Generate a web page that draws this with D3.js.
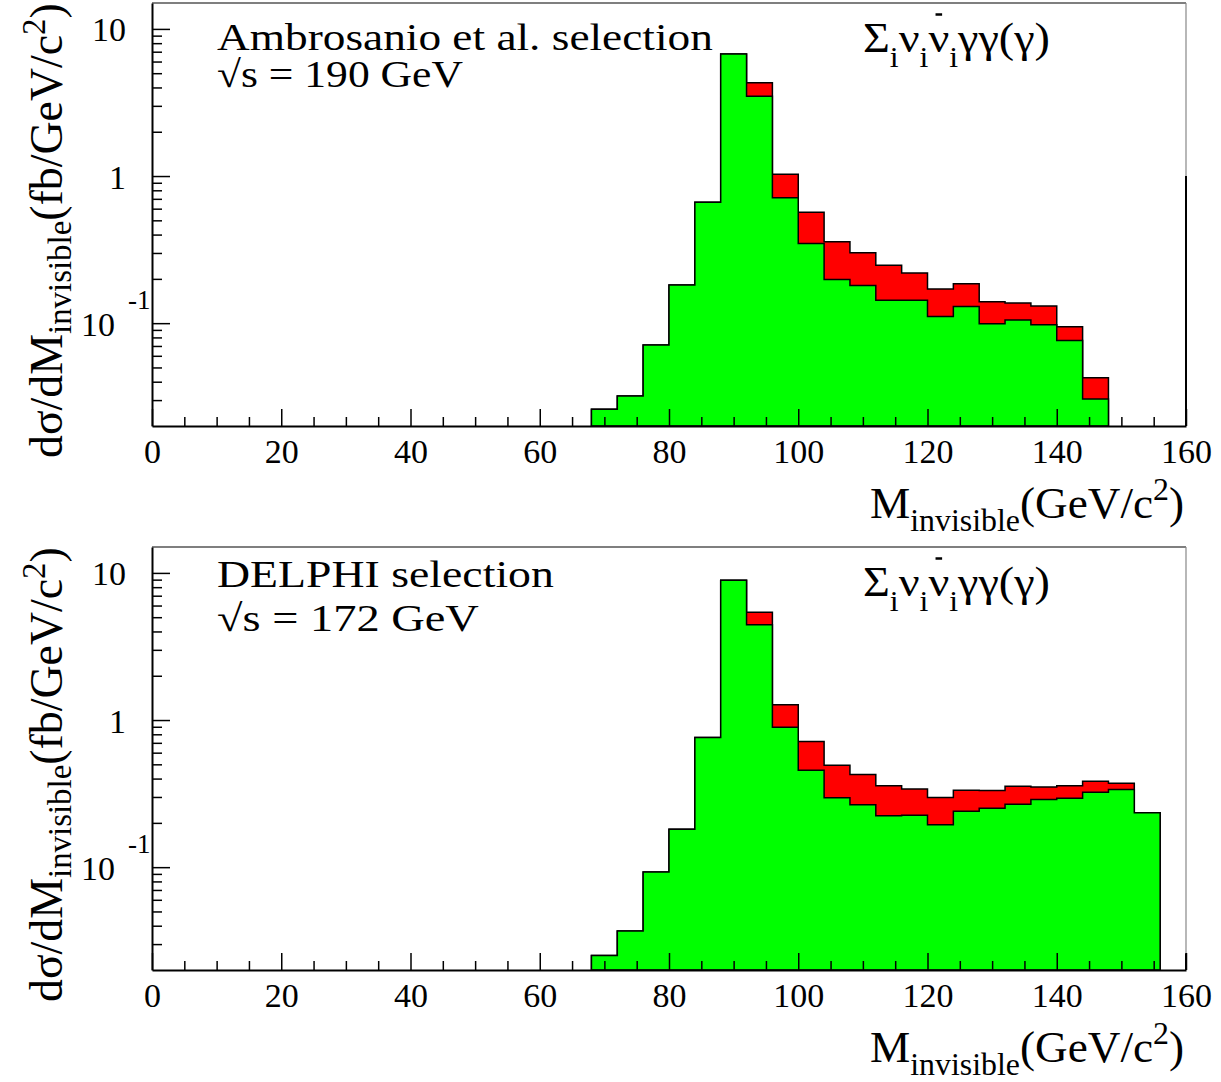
<!DOCTYPE html>
<html>
<head>
<meta charset="utf-8">
<script src="https://d3js.org/d3.v7.min.js"></script>
<style>
body { margin: 0; background: #fff; }
svg { display: block; }
</style>
</head>
<body>
<svg id="chart" width="1221" height="1082"></svg>
<script>
/*jslint browser: true*/
/*globals d3*/

// histogram binning (GeV/c^2)
var binStart = 68,
    binWidth = 4;

var xTicks = [0, 20, 40, 60, 80, 100, 120, 140, 160],
    yMajor = [0.1, 1, 10],
    yDomain = [0.02, 15];

// Ambrosanio et al. selection, sqrt(s) = 190 GeV, bins 68..148
var green190 = [0.026, 0.032, 0.071, 0.182, 0.664, 6.76, 3.48, 0.711, 0.348, 0.198,
    0.180, 0.143, 0.143, 0.111, 0.130, 0.099, 0.105, 0.0975, 0.0762, 0.0305];
var red190 = [0.026, 0.032, 0.071, 0.182, 0.664, 6.76, 4.30, 1.03, 0.568, 0.357,
    0.301, 0.248, 0.219, 0.171, 0.185, 0.140, 0.137, 0.131, 0.0945, 0.0426];

// DELPHI selection, sqrt(s) = 172 GeV, bins 68..156
var green172 = [0.0251, 0.0368, 0.0927, 0.181, 0.760, 8.93, 4.44, 0.894, 0.456, 0.296, 0.266,
    0.224, 0.225, 0.194, 0.240, 0.251, 0.268, 0.288, 0.294, 0.323, 0.337, 0.234];
var red172 = [0.0251, 0.0368, 0.0927, 0.181, 0.760, 8.93, 5.41, 1.27, 0.714, 0.493, 0.426,
    0.358, 0.340, 0.298, 0.333, 0.332, 0.355, 0.351, 0.357, 0.384, 0.372, 0.234];

var panels = [
    {top: 3, bottom: 426, green: green190, red: red190,
        lines: ["Ambrosanio et al. selection", "\u221As = 190 GeV"], widths: [496, 246],
        line1: 47, line2: 84, rightDark: 1},
    {top: 547, bottom: 970, green: green172, red: red172,
        lines: ["DELPHI selection", "\u221As = 172 GeV"], widths: [337, 262],
        line1: 40, line2: 84, rightDark: 0.026}
];

var left = 152,
    right = 1186,
    fontK = 1;

// pick a Times-like face if one is installed, else fall back to a serif
function pickFont(cands) {
    "use strict";
    var ctx = document.createElement("canvas").getContext("2d"),
        s = "Ambrosanio 0123456789 GeV selection",
        base,
        i;
    ctx.font = "40px monospace";
    base = ctx.measureText(s).width;
    for (i = 0; i < cands.length; i += 1) {
        ctx.font = "40px '" + cands[i] + "', monospace";
        if (Math.abs(ctx.measureText(s).width - base) > 0.5) {
            return cands[i];
        }
    }
    return "serif";
}

function fs(px) {
    "use strict";
    return px * fontK;
}

function stretch(sel, target) {
    "use strict";
    return target / sel.node().getComputedTextLength();
}

function stepPoints(values) {
    "use strict";
    var pts = [[binStart, yDomain[0]]],
        end = binStart + values.length * binWidth;
    values.forEach(function (v, i) {
        pts.push([binStart + i * binWidth, v]);
    });
    pts.push([end, values[values.length - 1]]);
    pts.push([end, yDomain[0]]);
    return pts;
}

function drawPanel(svg, spec) {
    "use strict";

    var g, x, y, line, xMinor, yMinor, ax, t, k, sg, sigma, p0, p1, mid;

    x = d3.scaleLinear().domain([0, 160]).range([left, right]);
    y = d3.scaleLog().domain(yDomain).range([spec.bottom, spec.top]);
    g = svg.append("g");

    line = d3.line()
        .x(function (d) { return x(d[0]); })
        .y(function (d) { return y(d[1]); })
        .curve(d3.curveStepAfter);

    g.append("path")
        .attr("d", line(stepPoints(spec.red)) + "Z")
        .attr("fill", "#ff0000")
        .attr("stroke", "#000")
        .attr("stroke-width", 1.5);
    g.append("path")
        .attr("d", line(stepPoints(spec.green)) + "Z")
        .attr("fill", "#00ff00")
        .attr("stroke", "#000")
        .attr("stroke-width", 1.5);

    // frame
    g.append("line")
        .attr("x1", left).attr("x2", right)
        .attr("y1", spec.top).attr("y2", spec.top)
        .attr("stroke", "#000").attr("stroke-width", 1.2);
    g.append("line")
        .attr("x1", right).attr("x2", right)
        .attr("y1", spec.top).attr("y2", spec.bottom)
        .attr("stroke", "#888").attr("stroke-width", 1.2);
    g.append("line")
        .attr("x1", right).attr("x2", right)
        .attr("y1", y(spec.rightDark)).attr("y2", spec.bottom)
        .attr("stroke", "#000").attr("stroke-width", 2);

    // x axis
    xMinor = d3.range(0, 161, 5).filter(function (d) { return d % 20 !== 0; });
    g.append("g")
        .attr("transform", "translate(0," + spec.bottom + ")")
        .call(d3.axisBottom(x).tickValues(xMinor).tickSize(-9).tickSizeOuter(0).tickFormat(""))
        .call(function (s) { s.select(".domain").remove(); })
        .selectAll("line").attr("stroke-width", 1.5);
    ax = g.append("g")
        .attr("transform", "translate(0," + spec.bottom + ")")
        .call(d3.axisBottom(x).tickValues(xTicks).tickSize(-17).tickSizeOuter(0)
            .tickPadding(13).tickFormat(d3.format("d")))
        .attr("font-size", fs(34))
        .attr("font-family", null);
    ax.selectAll("line").attr("stroke-width", 1.5);
    ax.select(".domain").attr("stroke-width", 2);
    ax.selectAll(".tick text").attr("y", 37).attr("dy", null);

    // y axis
    yMinor = [];
    [0.01, 0.1, 1, 10].forEach(function (dec) {
        d3.range(2, 10).forEach(function (m) {
            var v = m * dec;
            if (v > yDomain[0] * 1.001 && v < yDomain[1]) {
                yMinor.push(v);
            }
        });
    });
    g.append("g")
        .attr("transform", "translate(" + left + ",0)")
        .call(d3.axisLeft(y).tickValues(yMinor).tickSize(-10).tickSizeOuter(0).tickFormat(""))
        .call(function (s) { s.select(".domain").remove(); })
        .selectAll("line").attr("stroke-width", 1.5);
    ax = g.append("g")
        .attr("transform", "translate(" + left + ",0)")
        .call(d3.axisLeft(y).tickValues(yMajor).tickSize(-18).tickSizeOuter(0)
            .tickPadding(26).tickFormat(function (d) { return d < 1 ? "10" : String(d); }))
        .attr("font-size", fs(34))
        .attr("font-family", null);
    ax.selectAll("line").attr("stroke-width", 1.5);
    ax.select(".domain").attr("stroke-width", 2);
    ax.selectAll(".tick text").attr("y", 12).attr("dy", null);
    ax.selectAll(".tick").filter(function (d) { return d < 1; })
        .each(function () {
            var tk = d3.select(this);
            tk.select("text").attr("x", -37);
            tk.append("text")
                .attr("x", -24)
                .attr("y", -15)
                .attr("fill", "#000")
                .attr("text-anchor", "start")
                .attr("font-size", fs(27))
                .text("-1");
        });

    // y title
    t = g.append("text").attr("font-size", fs(46)).attr("fill", "#000");
    t.append("tspan").text("d\u03C3/dM");
    t.append("tspan").attr("font-size", fs(33)).attr("dy", 9).text("invisible");
    t.append("tspan").attr("dy", -9).text("(fb/GeV/c");
    t.append("tspan").attr("font-size", fs(33)).attr("dy", -17).text("2");
    t.append("tspan").attr("dy", 17).text(")");
    k = stretch(t, 455);
    t.attr("transform", "translate(62," + (spec.top + 455) + ") rotate(-90) scale(" + k + ",1)");

    // x title
    t = g.append("text").attr("font-size", fs(44)).attr("fill", "#000").attr("text-anchor", "end");
    t.append("tspan").text("M");
    t.append("tspan").attr("font-size", fs(31)).attr("dy", 13).text("invisible");
    t.append("tspan").attr("dy", -13).text("(GeV/c");
    t.append("tspan").attr("font-size", fs(31)).attr("dy", -18).text("2");
    t.append("tspan").attr("dy", 18).text(")");
    k = stretch(t, 314);
    t.attr("transform", "translate(1184," + (spec.bottom + 92) + ") scale(" + k + ",1)");

    // selection labels
    [spec.line1, spec.line2].forEach(function (off, i) {
        var tx = g.append("text")
                .attr("font-size", fs(38))
                .attr("fill", "#000")
                .text(spec.lines[i]),
            kk = stretch(tx, spec.widths[i]);
        tx.attr("transform", "translate(217," + (spec.top + off) + ") scale(" + kk + ",1)");
    });

    // process label
    sg = g.append("g");
    sigma = sg.append("text").attr("font-size", fs(42)).attr("fill", "#000");
    sigma.append("tspan").text("\u03A3");
    sigma.append("tspan").attr("font-size", fs(29)).attr("dy", 15).text("i");
    sigma.append("tspan").attr("dy", -15).text("\u03BD");
    sigma.append("tspan").attr("font-size", fs(29)).attr("dy", 15).text("i");
    sigma.append("tspan").attr("dy", -15).text("\u03BD");
    sigma.append("tspan").attr("font-size", fs(29)).attr("dy", 15).text("i");
    sigma.append("tspan").attr("dy", -15).text("\u03B3\u03B3(\u03B3)");
    k = stretch(sigma, 187);
    sg.attr("transform", "translate(863," + (spec.top + 48.5) + ") scale(" + k + ",1)");
    p0 = sigma.node().getStartPositionOfChar(4);
    p1 = sigma.node().getEndPositionOfChar(4);
    mid = (p0.x + p1.x) / 2;
    sg.append("line")
        .attr("x1", mid - 3).attr("x2", mid + 3)
        .attr("y1", -37).attr("y2", -37)
        .attr("stroke", "#000").attr("stroke-width", 2.5);
}

(function () {
    "use strict";
    var svg = d3.select("#chart"),
        face = pickFont(["Liberation Serif", "Times New Roman", "Tinos", "Nimbus Roman",
            "Nimbus Roman No9 L", "FreeSerif", "Noto Serif", "DejaVu Serif"]);
    if (face === "DejaVu Serif" || face === "serif") {
        fontK = 0.88;
    }
    svg.style("font-family", "'" + face + "', serif");
    panels.forEach(function (p) {
        drawPanel(svg, p);
    });
}());
</script>
</body>
</html>
